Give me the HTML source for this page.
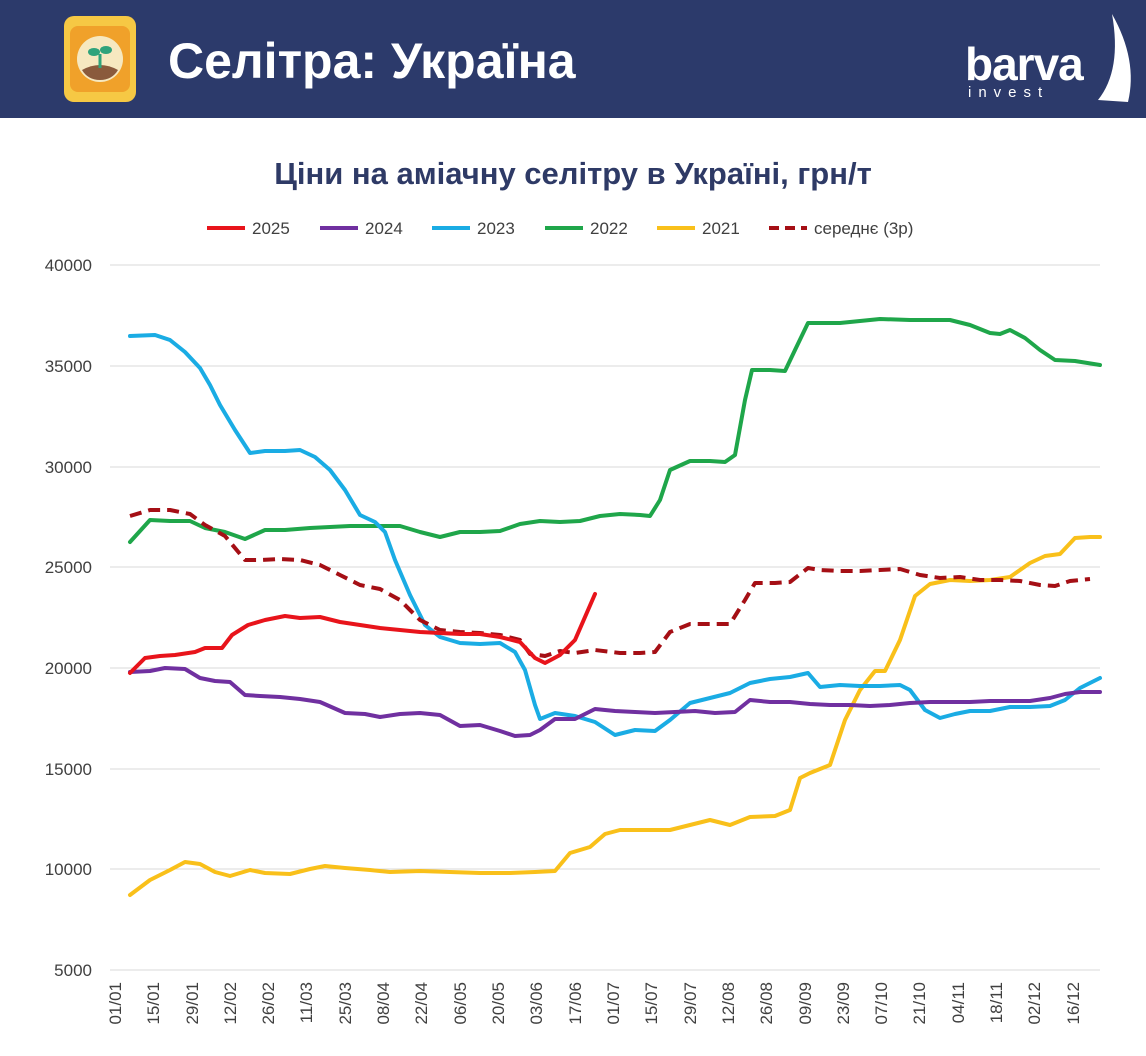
<!DOCTYPE html>
<html><head><meta charset="utf-8"><style>
body{margin:0;background:#fff}
svg{display:block;font-family:"Liberation Sans","DejaVu Sans",sans-serif}
</style></head><body>
<svg width="1146" height="1056" viewBox="0 0 1146 1056" xmlns="http://www.w3.org/2000/svg">
<rect x="0" y="0" width="1146" height="118" fill="#2c3a6b"/>
<rect x="64" y="16" width="72" height="86" rx="10" fill="#f6c844"/>
<rect x="70" y="26" width="60" height="66" rx="8" fill="#f0a12a"/>
<circle cx="100" cy="59" r="23" fill="#f6e8c0"/>
<path d="M82,70 Q100,60 118,70 Q112,80 100,80 Q88,80 82,70Z" fill="#8a5a3c"/>
<line x1="100" y1="68" x2="100" y2="54" stroke="#2fa37b" stroke-width="3"/>
<ellipse cx="94" cy="52" rx="6" ry="4" fill="#2fa37b"/><ellipse cx="106" cy="50" rx="6" ry="4" fill="#2fa37b"/>
<text x="168" y="78" font-size="50" font-weight="bold" fill="#fff">Селітра: Україна</text>
<path d="M1112,14 Q1138,60 1128,102 L1098,100 Q1122,70 1112,14Z" fill="#fff"/>
<text x="965" y="80" font-size="46" font-weight="bold" fill="#fff" letter-spacing="-1">barva</text>
<text x="968" y="97" font-size="15" fill="#fff" letter-spacing="7">invest</text>
<text x="573" y="184" font-size="31" font-weight="bold" fill="#2e3a66" text-anchor="middle">Ціни на аміачну селітру в Україні, грн/т</text>
<g font-size="17" fill="#404040">
<line x1="207" y1="228" x2="245" y2="228" stroke="#e8141b" stroke-width="4"/><text x="252" y="234">2025</text>
<line x1="320" y1="228" x2="358" y2="228" stroke="#7030a0" stroke-width="4"/><text x="365" y="234">2024</text>
<line x1="432" y1="228" x2="470" y2="228" stroke="#1aace4" stroke-width="4"/><text x="477" y="234">2023</text>
<line x1="545" y1="228" x2="583" y2="228" stroke="#1fa64a" stroke-width="4"/><text x="590" y="234">2022</text>
<line x1="657" y1="228" x2="695" y2="228" stroke="#f9c01a" stroke-width="4"/><text x="702" y="234">2021</text>
<line x1="769" y1="228" x2="807" y2="228" stroke="#a50f15" stroke-width="4" stroke-dasharray="10,6"/><text x="814" y="234">середнє (3р)</text>
</g>
<g stroke="#d9d9d9" stroke-width="1">
<line x1="110" y1="265" x2="1100" y2="265"/><line x1="110" y1="366" x2="1100" y2="366"/><line x1="110" y1="467" x2="1100" y2="467"/><line x1="110" y1="567" x2="1100" y2="567"/><line x1="110" y1="668" x2="1100" y2="668"/><line x1="110" y1="769" x2="1100" y2="769"/><line x1="110" y1="869" x2="1100" y2="869"/><line x1="110" y1="970" x2="1100" y2="970"/>
</g>
<g font-size="17" fill="#404040" text-anchor="end">
<text x="92" y="271">40000</text><text x="92" y="372">35000</text><text x="92" y="473">30000</text><text x="92" y="573">25000</text><text x="92" y="674">20000</text><text x="92" y="775">15000</text><text x="92" y="875">10000</text><text x="92" y="976">5000</text>
</g>
<g font-size="17" fill="#404040" text-anchor="end">
<text transform="translate(121,982) rotate(-90)">01/01</text>
<text transform="translate(159,982) rotate(-90)">15/01</text>
<text transform="translate(198,982) rotate(-90)">29/01</text>
<text transform="translate(236,982) rotate(-90)">12/02</text>
<text transform="translate(274,982) rotate(-90)">26/02</text>
<text transform="translate(312,982) rotate(-90)">11/03</text>
<text transform="translate(351,982) rotate(-90)">25/03</text>
<text transform="translate(389,982) rotate(-90)">08/04</text>
<text transform="translate(427,982) rotate(-90)">22/04</text>
<text transform="translate(466,982) rotate(-90)">06/05</text>
<text transform="translate(504,982) rotate(-90)">20/05</text>
<text transform="translate(542,982) rotate(-90)">03/06</text>
<text transform="translate(581,982) rotate(-90)">17/06</text>
<text transform="translate(619,982) rotate(-90)">01/07</text>
<text transform="translate(657,982) rotate(-90)">15/07</text>
<text transform="translate(696,982) rotate(-90)">29/07</text>
<text transform="translate(734,982) rotate(-90)">12/08</text>
<text transform="translate(772,982) rotate(-90)">26/08</text>
<text transform="translate(811,982) rotate(-90)">09/09</text>
<text transform="translate(849,982) rotate(-90)">23/09</text>
<text transform="translate(887,982) rotate(-90)">07/10</text>
<text transform="translate(925,982) rotate(-90)">21/10</text>
<text transform="translate(964,982) rotate(-90)">04/11</text>
<text transform="translate(1002,982) rotate(-90)">18/11</text>
<text transform="translate(1040,982) rotate(-90)">02/12</text>
<text transform="translate(1079,982) rotate(-90)">16/12</text>
</g>
<g fill="none" stroke-width="4" stroke-linejoin="round" stroke-linecap="round">
<polyline stroke="#f9c01a" points="130,895 150,880 170,870 185,862 200,864 215,872 230,876 250,870 265,873 290,874 310,869 325,866 345,868 370,870 390,872 420,871 450,872 480,873 510,873 535,872 555,871 570,853 590,847 605,834 620,830 640,830 670,830 690,825 710,820 730,825 750,817 775,816 790,810 800,778 810,773 830,765 845,720 860,690 875,671 885,671 900,640 915,596 930,584 950,580 970,581 990,580 1010,577 1030,563 1045,556 1060,554 1075,538 1090,537 1100,537"/>
<polyline stroke="#1fa64a" points="130,542 150,520 170,521 190,521 205,528 225,532 245,539 265,530 285,530 310,528 350,526 380,526 400,526 420,532 440,537 460,532 480,532 500,531 520,524 540,521 560,522 580,521 600,516 620,514 640,515 650,516 660,500 670,470 690,461 710,461 725,462 735,455 745,400 752,370 770,370 785,371 795,350 808,323 820,323 840,323 860,321 880,319 910,320 930,320 950,320 970,325 990,333 1000,334 1010,330 1025,338 1040,350 1055,360 1075,361 1100,365"/>
<polyline stroke="#1aace4" points="130,336 155,335 170,340 185,352 200,368 210,385 220,405 235,430 250,453 265,451 285,451 300,450 315,457 330,470 345,490 360,515 375,522 385,532 395,560 410,595 425,625 440,637 460,643 480,644 500,643 515,652 525,670 535,705 540,719 555,713 575,716 595,722 615,735 635,730 655,731 670,720 690,703 710,698 730,693 750,683 770,679 790,677 808,673 820,687 840,685 860,686 880,686 900,685 910,690 925,710 940,718 955,714 970,711 990,711 1010,707 1030,707 1050,706 1065,700 1080,688 1100,678"/>
<polyline stroke="#7030a0" points="130,672 150,671 165,668 185,669 200,678 215,681 230,682 245,695 260,696 280,697 300,699 320,702 345,713 365,714 380,717 400,714 420,713 440,715 460,726 480,725 500,731 515,736 530,735 540,730 555,719 575,719 595,709 615,711 635,712 655,713 675,712 695,711 715,713 735,712 750,700 770,702 790,702 810,704 830,705 850,705 870,706 890,705 910,703 930,702 950,702 970,702 990,701 1010,701 1030,701 1050,698 1065,694 1080,692 1100,692"/>
<polyline stroke="#a50f15" stroke-dasharray="12,7" stroke-linecap="butt" points="130,516 150,510 170,510 190,514 205,525 225,536 245,560 260,560 280,559 300,560 320,565 340,575 360,585 380,589 400,600 420,620 440,630 460,632 480,633 500,635 520,640 530,654 545,656 560,651 575,653 595,650 620,653 640,653 655,652 670,632 690,624 710,624 730,624 745,600 755,583 775,583 790,582 808,568 820,570 840,571 860,571 880,570 900,569 920,575 940,578 960,577 980,580 1000,580 1020,581 1040,585 1055,586 1070,581 1090,579"/>
<polyline stroke="#e8141b" points="130,673 145,658 160,656 175,655 195,652 205,648 222,648 232,635 248,625 265,620 285,616 300,618 320,617 340,622 360,625 380,628 400,630 420,632 440,633 460,634 480,634 500,637 520,642 535,658 545,663 560,655 575,640 595,594"/>
</g>
</svg>
</body></html>
